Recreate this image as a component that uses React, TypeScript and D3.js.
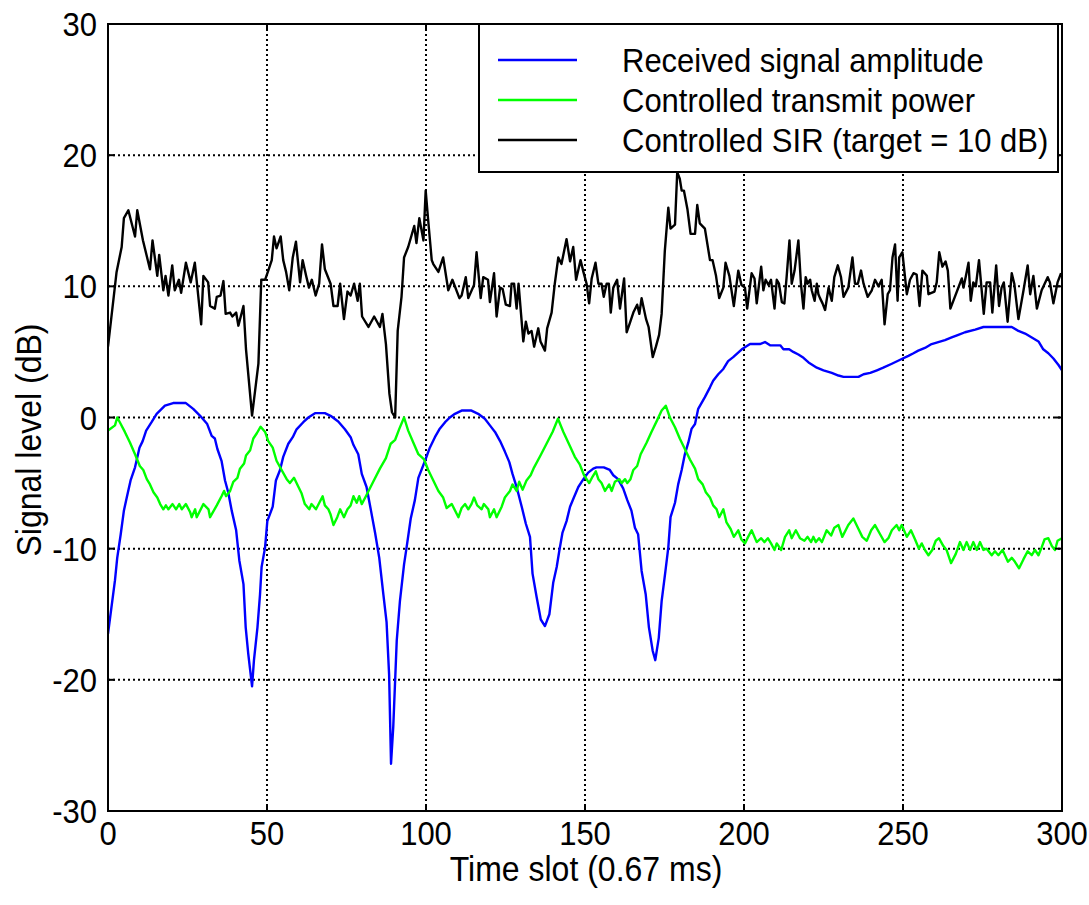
import React from "react";
import * as d3 from "d3";

// [time slot, dB]
const AMPLITUDE: [number, number][] = [[0,-16.5],[2.2,-12.4],[2.9,-10.7],[4,-8.9],[5,-7.1],[5.9,-6.1],[7.1,-4.8],[8.5,-3.8],[9.9,-2.3],[10.9,-1.8],[12,-1.0],[13.7,-0.36],[15.3,0.28],[17.9,0.9],[20.5,1.1],[24.5,1.1],[26.8,0.66],[28.9,0.15],[31.2,-0.5],[32.6,-1.4],[33.6,-1.6],[34.4,-2.4],[35.7,-3.3],[36.8,-4.8],[37.8,-5.7],[38.9,-7.1],[40.3,-8.6],[41.3,-10.9],[42.6,-12.7],[43.3,-16],[44.1,-18],[45.3,-20.5],[45.9,-18.5],[47,-16],[47.8,-13.5],[48.3,-11.4],[49.4,-9.9],[50.1,-7.9],[51.8,-6.8],[52.8,-4.8],[54.1,-4.0],[55.1,-3.0],[56.7,-2.0],[58.1,-1.5],[59.3,-0.9],[61.4,-0.36],[63,0],[65.1,0.33],[68.2,0.33],[70.3,0.08],[72.4,-0.3],[74.5,-0.9],[76.3,-1.5],[77.2,-2.1],[78.7,-2.8],[79.8,-4.3],[81.3,-5.3],[82.7,-7.1],[84,-8.8],[85.3,-10.7],[86.6,-13.5],[87.6,-15.6],[88.4,-19.6],[89,-26.4],[89.7,-23.6],[90.8,-17],[91.8,-14],[93.1,-11.2],[93.9,-9.9],[95.2,-7.7],[96.5,-6.3],[97.6,-4.6],[99.7,-3.3],[101.2,-2.3],[102.8,-1.5],[104.2,-0.9],[106,-0.36],[107.5,0],[109.1,0.28],[111.2,0.53],[114.3,0.53],[116.4,0.28],[118.5,-0.1],[120.1,-0.6],[121.7,-1.1],[123.3,-1.8],[124.8,-2.6],[126.2,-3.4],[127.2,-4.3],[128.5,-5.3],[130.1,-6.8],[131.4,-8.1],[132.7,-9.1],[133.5,-11.9],[134.8,-13.7],[136.1,-15.4],[137.4,-15.9],[138.8,-15],[140,-12.6],[141.1,-11.4],[141.9,-10.2],[142.9,-8.8],[144.2,-7.9],[145.3,-6.8],[146.5,-6.1],[147.9,-5.3],[149.5,-4.7],[151,-4.2],[152.6,-3.9],[153.6,-3.8],[155.9,-3.8],[157.8,-4.0],[158.9,-4.4],[160.4,-4.7],[162,-5.4],[163.3,-6.3],[164.6,-7.1],[165.7,-8.4],[166.7,-8.9],[167.8,-11.7],[169.1,-13.5],[170.1,-16],[171.3,-17.8],[172.1,-18.5],[173.2,-16.8],[174.1,-14],[175.3,-11.7],[176.2,-9.9],[176.9,-7.6],[178.3,-6.5],[179.3,-5.1],[180.4,-4.0],[181.4,-2.8],[182.5,-1.9],[183.5,-0.87],[184.6,-0.5],[185.6,0.66],[187.7,1.55],[189.3,2.3],[190.3,2.8],[191.9,3.3],[193.5,3.7],[195,4.3],[196.6,4.6],[199.3,5.2],[201.9,5.6],[205,5.6],[206.6,5.75],[208.2,5.5],[211.4,5.5],[212.4,5.2],[214.2,5.2],[215.5,5.0],[217.1,4.8],[218.7,4.55],[220.3,4.2],[222.9,3.8],[225,3.6],[227.6,3.4],[229.7,3.2],[231.3,3.1],[236,3.1],[237.6,3.3],[239.7,3.4],[241.8,3.6],[243.8,3.8],[246.5,4.1],[249.1,4.4],[251.7,4.7],[253.3,4.9],[254.8,5.1],[256.9,5.3],[259,5.6],[261.1,5.75],[263.2,5.9],[265.3,6.1],[267.4,6.3],[269.5,6.5],[272.7,6.7],[275.3,6.9],[284.2,6.9],[286.3,6.6],[288.4,6.4],[290.5,6.1],[292.6,5.8],[294.1,5.2],[295.7,4.9],[297.3,4.5],[298.9,4.0],[300,3.6]];

const POWER: [number, number][] = [[0,-1.0],[2.2,-0.6],[2.9,0],[3.8,-0.4],[5.3,-1.1],[6.9,-1.9],[8.5,-2.8],[10,-3.7],[11.1,-4.0],[12.2,-4.7],[13.2,-5.1],[14.3,-5.7],[15.5,-6.1],[16.4,-6.6],[17.4,-7.0],[18.2,-6.7],[19,-7.0],[20.3,-6.6],[21.4,-7.0],[22.4,-6.6],[23.2,-7.0],[24.5,-6.6],[25.8,-7.2],[26.3,-7.6],[27.4,-7.0],[27.9,-7.6],[30,-6.6],[31.6,-7.0],[32.1,-7.6],[34.2,-6.7],[35.7,-6.0],[36.5,-5.6],[37.1,-6.0],[38.4,-5.6],[39.4,-4.9],[40.7,-4.6],[41.5,-3.9],[42.8,-3.5],[43.4,-2.9],[44.7,-2.5],[45.7,-1.6],[46.8,-1.2],[48,-0.7],[49.4,-1.1],[50.4,-1.8],[51.8,-2.3],[53,-3.3],[54.6,-4.0],[56.2,-4.7],[57.2,-5.0],[58.5,-4.6],[59.9,-5.3],[60.9,-5.8],[61.9,-6.6],[63.3,-7.0],[64,-6.6],[65.4,-7.0],[67.5,-6.0],[68.2,-6.7],[69.3,-7.0],[70,-7.4],[70.9,-8.2],[72.1,-7.6],[73,-7.0],[74.2,-7.6],[75.3,-7.0],[76.3,-6.7],[77.2,-6.0],[78.2,-6.5],[79,-6.0],[79.8,-6.6],[81.1,-6.0],[83.4,-4.9],[85.5,-3.9],[87.4,-3.1],[88.9,-2.0],[90.3,-1.7],[91.6,-0.87],[93.1,0],[94.4,-1.0],[96,-1.9],[97.6,-2.8],[99.4,-3.2],[100.7,-4.0],[102.3,-4.8],[103.9,-5.6],[105.4,-6.1],[106.5,-6.9],[108.1,-6.6],[110.2,-7.6],[111.2,-6.9],[112.3,-6.6],[113.3,-7.0],[114.3,-6.6],[115.1,-6.1],[116.1,-6.7],[117.5,-7.0],[118.2,-6.6],[119.6,-7.0],[120.1,-7.6],[121.4,-7.0],[122.2,-7.6],[123.8,-6.8],[124.8,-6.1],[126.4,-5.6],[127.2,-5.1],[128.5,-5.6],[129.3,-4.9],[130.4,-5.5],[131.6,-4.8],[132.9,-4.4],[134,-3.8],[136,-2.9],[137.9,-2.0],[139.8,-1.1],[141.5,-0.1],[143.2,-1.1],[145.1,-2.1],[146.8,-3.0],[148.4,-3.6],[149.7,-4.4],[151.3,-5.0],[152.4,-4.5],[153.4,-4.1],[154.2,-4.7],[155.2,-5.0],[156.3,-5.6],[157.6,-5.1],[158.4,-5.6],[159.4,-4.9],[160.8,-4.7],[161.5,-5.0],[162.6,-4.7],[163.3,-5.0],[164.3,-4.7],[165.2,-4.0],[166.4,-3.7],[167.5,-2.8],[169.4,-1.9],[170.9,-1.1],[172.7,-0.2],[174.1,0.53],[175.4,0.9],[176.7,0],[178.3,-0.74],[179.8,-1.6],[181.4,-2.4],[183,-3.2],[184.6,-3.9],[185.6,-4.7],[187,-5.1],[188,-5.7],[189.3,-6.1],[190.3,-6.7],[191.4,-7.0],[192.2,-7.6],[193.5,-7.0],[194.5,-8.0],[195.8,-8.5],[196.8,-9.1],[198.2,-8.6],[199.2,-9.3],[200.3,-9.6],[201.3,-9.1],[202.4,-8.6],[204,-9.5],[205.4,-9.2],[206.4,-9.5],[207.5,-9.2],[208.5,-9.6],[209.6,-10.1],[210.3,-9.6],[211.7,-10.1],[212.9,-9.1],[214.2,-8.6],[215,-9.2],[216.3,-8.6],[217.6,-9.2],[219,-9.4],[220,-9.1],[221.1,-9.5],[221.8,-9.1],[222.6,-9.5],[223.6,-9.2],[224.5,-9.5],[226,-8.6],[227.4,-9.0],[228.4,-8.4],[229.7,-8.2],[230.9,-9.1],[232.8,-8.2],[234.4,-7.7],[236,-8.5],[237.2,-9.1],[238.6,-9.4],[240,-8.6],[241.2,-8.2],[242.8,-8.9],[244.2,-9.5],[245.4,-9.2],[246.5,-8.6],[248,-8.2],[248.8,-8.6],[249.6,-8.2],[251.2,-9.1],[252.5,-8.6],[253.8,-9.3],[255,-10],[255.9,-9.6],[256.9,-10.1],[258,-10.5],[259.2,-10.1],[260.3,-9.4],[261.3,-9.2],[262.7,-9.8],[263.7,-10.1],[265.1,-11.1],[266.6,-10.4],[267.9,-9.5],[269,-10.1],[270,-9.5],[271.1,-10.1],[272.1,-9.5],[273.2,-10.1],[274.2,-9.5],[275.3,-10.1],[276.3,-10],[277.9,-10.5],[278.9,-10.2],[280,-10.5],[281.3,-10.1],[283,-11],[284.2,-10.7],[285.2,-11],[286.5,-11.5],[287.9,-10.8],[289.2,-10.2],[290.5,-10.5],[291.5,-10.1],[292.6,-10.5],[293.6,-9.9],[294.5,-9.3],[295.7,-9.2],[296.8,-9.8],[297.8,-10.1],[298.6,-9.4],[300,-9.2]];

const SIR: [number, number][] = [[0,5.4],[2.7,11.1],[4.3,13],[5,15.2],[6.4,15.8],[8.5,13.8],[9.2,15.8],[11,13.5],[13.2,11.3],[14,13.5],[15.5,10.8],[16.1,12.4],[17.4,9.7],[18.1,10.8],[19,9.3],[20.2,11.6],[21,9.7],[22.3,10.5],[23,9.5],[24.5,11.8],[26,10.3],[27.3,11.8],[29.3,7.1],[30,10.8],[31.5,10.3],[32.1,8.5],[33.6,8.3],[34.2,9.2],[35.4,9.3],[36.3,10.4],[37,7.9],[38.4,8.0],[39.1,7.7],[40.3,8.0],[41,7.0],[42.6,8.5],[43.4,5.2],[45.3,0.15],[47.3,4.1],[48.2,10.5],[49.4,10.5],[50.4,11.2],[51.5,12],[52.2,13.8],[53,12.9],[54.3,13.8],[55.1,12],[56,11.1],[57,9.7],[58.1,12.2],[59.1,13.4],[60.4,10.3],[61.2,12],[62.3,10.8],[63.2,9.9],[64.1,10.5],[65.3,9.3],[66.4,10.2],[67.3,13.2],[68.2,11.3],[70,10.2],[70.9,8.5],[72.2,8.5],[73,10.2],[74.2,7.5],[75.3,9.6],[76.3,9.3],[77.4,10.2],[78.5,8.9],[79.2,10.2],[79.9,7.7],[81.9,6.9],[83.7,7.7],[85.5,6.9],[86.3,7.9],[87.4,5.6],[88.5,1.8],[89.3,0.4],[90.3,0],[91.1,6.6],[92.3,9.2],[93.1,12.2],[94.4,13],[96.3,14.6],[97,13.3],[97.9,15.2],[99.2,13.5],[99.9,17.3],[100.7,15],[101.8,12],[102.3,11.7],[103.9,11.1],[105.4,12.2],[107,9.7],[108.3,10.5],[110.5,9.1],[111.2,9.3],[112.5,10.7],[113.3,9.1],[115.1,10.1],[115.9,12.6],[117.2,9.1],[118,10.7],[119.5,10.5],[120.1,8.8],[121.4,11],[122.2,7.7],[123.3,9.9],[124.1,9.8],[125.1,8.6],[126.4,8.5],[126.9,10.2],[127.7,10.2],[128.5,8.3],[129.1,10.2],[130.6,5.8],[131.4,7.3],[132.2,6.4],[133.2,6.6],[134,5.4],[135.3,6.8],[136,5.8],[137.4,5.1],[138.1,6.8],[139.5,8],[140.5,10.2],[141.6,12.2],[142.6,11.7],[144.2,13.6],[145.3,11.9],[146.3,13],[147.2,10.5],[148.6,12],[149.5,11.1],[150.5,10.2],[151.3,8.7],[152.1,10.6],[153.3,11.8],[154.2,10.2],[155.2,10.2],[155.9,9.2],[156.8,10.2],[157.5,10.2],[158.1,8],[158.9,9.9],[160.1,10.5],[161,8.3],[162.3,10.6],[163.1,6.5],[164.1,7.2],[165.2,8],[166.4,8.6],[167.1,7.9],[167.8,9.1],[169.2,7.5],[170,6.9],[171.3,4.6],[172.3,5.4],[173.3,6.3],[174.1,7.9],[175.1,12.7],[176.2,16],[176.9,14.4],[178.3,14.7],[179,18.7],[179.8,18.2],[180.4,17.3],[181.1,17.3],[182.2,15.9],[183.2,14],[184.6,14],[185.3,16.2],[186.1,14.8],[187.7,14.4],[189.3,12],[190.1,12],[191.2,10.8],[192.2,9.1],[193.5,9.9],[194.2,11.8],[195.4,10.8],[196.8,8.5],[198.2,11.2],[199.2,10.1],[200.3,9.9],[201,8.3],[202.4,11],[203.3,10.6],[204,8.7],[205.4,11.5],[206.1,9.7],[206.8,10.5],[207.7,10.1],[208.5,10.5],[209.6,8.3],[210.3,10.5],[211,10.2],[211.9,8.8],[212.7,8.7],[213.4,10.7],[214.3,13.5],[215,10.2],[215.9,11.2],[217.1,13.5],[217.9,10.2],[218.7,8.3],[219.4,10.7],[220,10.2],[220.8,10.5],[221.3,9.7],[222.2,8.9],[222.9,10.2],[223.4,9.4],[223.9,9.1],[224.7,8.7],[225.5,8.2],[226.6,9.9],[227.6,8.9],[228.4,10.7],[229.5,11.6],[230.5,10.7],[231.3,9.2],[232.8,9.9],[234.1,12.2],[234.9,10.2],[235.8,10.2],[236.8,11.2],[237.6,10.2],[238.9,9.2],[240.2,9.7],[241.2,10.5],[242.3,10],[243.3,10.5],[244.2,7.1],[245.2,9.4],[245.9,9.7],[246.7,12.2],[247.5,13.2],[248.3,8.9],[248.8,12.2],[249.8,12.6],[251.2,9.4],[252.2,10.5],[253.3,11],[254.3,10.9],[255.2,8.5],[256.1,11.2],[257.5,10.8],[258,9.4],[259.9,9.6],[260.6,10.3],[261.4,12.6],[262.4,11.5],[263.4,11.9],[264.1,11.2],[264.9,8.3],[268.5,10.6],[269,9.9],[269.7,10.7],[270.6,11.8],[271.3,8.9],[272.1,10.3],[272.9,10],[273.9,12],[275.4,7.9],[276.3,10.3],[277.4,10.3],[278.1,8],[279.3,11.6],[280.2,8.5],[281,9.9],[281.7,10.3],[282.9,7.3],[284.2,11],[285,10.2],[286.3,7.5],[287.9,9.7],[289.2,11.6],[290,9.4],[291,10.8],[292.1,8.3],[293.6,9.7],[295.5,10.7],[296.2,10.3],[297.3,8.7],[298.6,10.3],[299.7,11]];

const X_TICKS = [0, 50, 100, 150, 200, 250, 300];
const Y_TICKS = [-30, -20, -10, 0, 10, 20, 30];
const LEGEND_LABELS = [
  "Received signal amplitude",
  "Controlled transmit power",
  "Controlled SIR (target = 10 dB)",
];
const SERIES_COLORS = ["#0000ff", "#00ff00", "#000000"];

const W = 1089;
const H = 905;
const L = 108, R = 1062, T = 24, B = 811;
const FONT = "'Liberation Sans', Arial, Helvetica, sans-serif";
const FS = 31;
const SY = 1.08; // glyphs in the reference are slightly taller

function Txt(props: { x: number; y: number; anchor?: string; children: React.ReactNode; fs?: number }) {
  const { x, y, anchor, children, fs } = props;
  return (
    <text
      transform={`translate(${x},${y}) scale(1,${SY})`}
      textAnchor={anchor || "start"}
      fontSize={fs || FS}
    >
      {children}
    </text>
  );
}

export default function App() {
  const x = d3.scaleLinear().domain([0, 300]).range([L, R]);
  const y = d3.scaleLinear().domain([-30, 30]).range([B, T]);
  const line = d3
    .line<[number, number]>()
    .x((d) => x(d[0]))
    .y((d) => y(d[1]));
  const series = [AMPLITUDE, POWER, SIR];
  const tk = 7;

  const legX0 = 479, legX1 = 1058, legY0 = T, legY1 = 172;
  const rowY = [60, 100, 140];

  return (
    <svg
      width={W}
      height={H}
      style={{ position: "absolute", left: 0, top: 0, background: "#fff" }}
      fontFamily={FONT}
    >
      <rect x={0} y={0} width={W} height={H} fill="#fff" />
      <defs>
        <clipPath id="plotclip">
          <rect x={L} y={T} width={R - L} height={B - T} />
        </clipPath>
      </defs>
      {/* grid */}
      <g stroke="#000" strokeWidth={2} strokeDasharray="2,3">
        {X_TICKS.slice(1, -1).map((t) => (
          <line key={"gx" + t} x1={x(t)} x2={x(t)} y1={T} y2={B} />
        ))}
        {Y_TICKS.slice(1, -1).map((t) => (
          <line key={"gy" + t} x1={L} x2={R} y1={y(t)} y2={y(t)} />
        ))}
      </g>
      {/* series */}
      <g clipPath="url(#plotclip)" fill="none" strokeLinejoin="round">
        {series.map((s, i) => (
          <path key={i} d={line(s) || ""} stroke={SERIES_COLORS[i]} strokeWidth={2.4} />
        ))}
      </g>
      {/* frame and ticks */}
      <g stroke="#000" strokeWidth={2}>
        <rect x={L} y={T} width={R - L} height={B - T} fill="none" />
        {X_TICKS.map((t) => (
          <g key={"tx" + t}>
            <line x1={x(t)} x2={x(t)} y1={B} y2={B - tk} />
            <line x1={x(t)} x2={x(t)} y1={T} y2={T + tk} />
          </g>
        ))}
        {Y_TICKS.map((t) => (
          <g key={"ty" + t}>
            <line x1={L} x2={L + tk} y1={y(t)} y2={y(t)} />
            <line x1={R} x2={R - tk} y1={y(t)} y2={y(t)} />
          </g>
        ))}
      </g>
      {/* tick labels */}
      <g fill="#000">
        {X_TICKS.map((t) => (
          <Txt key={"lx" + t} x={x(t)} y={845} anchor="middle">
            {t}
          </Txt>
        ))}
        {Y_TICKS.map((t) => (
          <Txt key={"ly" + t} x={97} y={y(t) + 12} anchor="end">
            {t}
          </Txt>
        ))}
      </g>
      {/* axis titles */}
      <Txt x={(L + R) / 2 + 1} y={881} anchor="middle" fs={32}>
        Time slot (0.67 ms)
      </Txt>
      <text
        transform={`translate(41, 440) rotate(-90) scale(1,${SY})`}
        textAnchor="middle"
        fontSize={32}
      >
        Signal level (dB)
      </text>
      {/* legend */}
      <rect
        x={legX0}
        y={legY0}
        width={legX1 - legX0}
        height={legY1 - legY0}
        fill="#fff"
        stroke="#000"
        strokeWidth={2}
      />
      {LEGEND_LABELS.map((lab, i) => (
        <g key={"leg" + i}>
          <line
            x1={498}
            x2={577}
            y1={rowY[i]}
            y2={rowY[i]}
            stroke={SERIES_COLORS[i]}
            strokeWidth={2.4}
          />
          <Txt x={622} y={rowY[i] + 12}>
            {lab}
          </Txt>
        </g>
      ))}
    </svg>
  );
}
